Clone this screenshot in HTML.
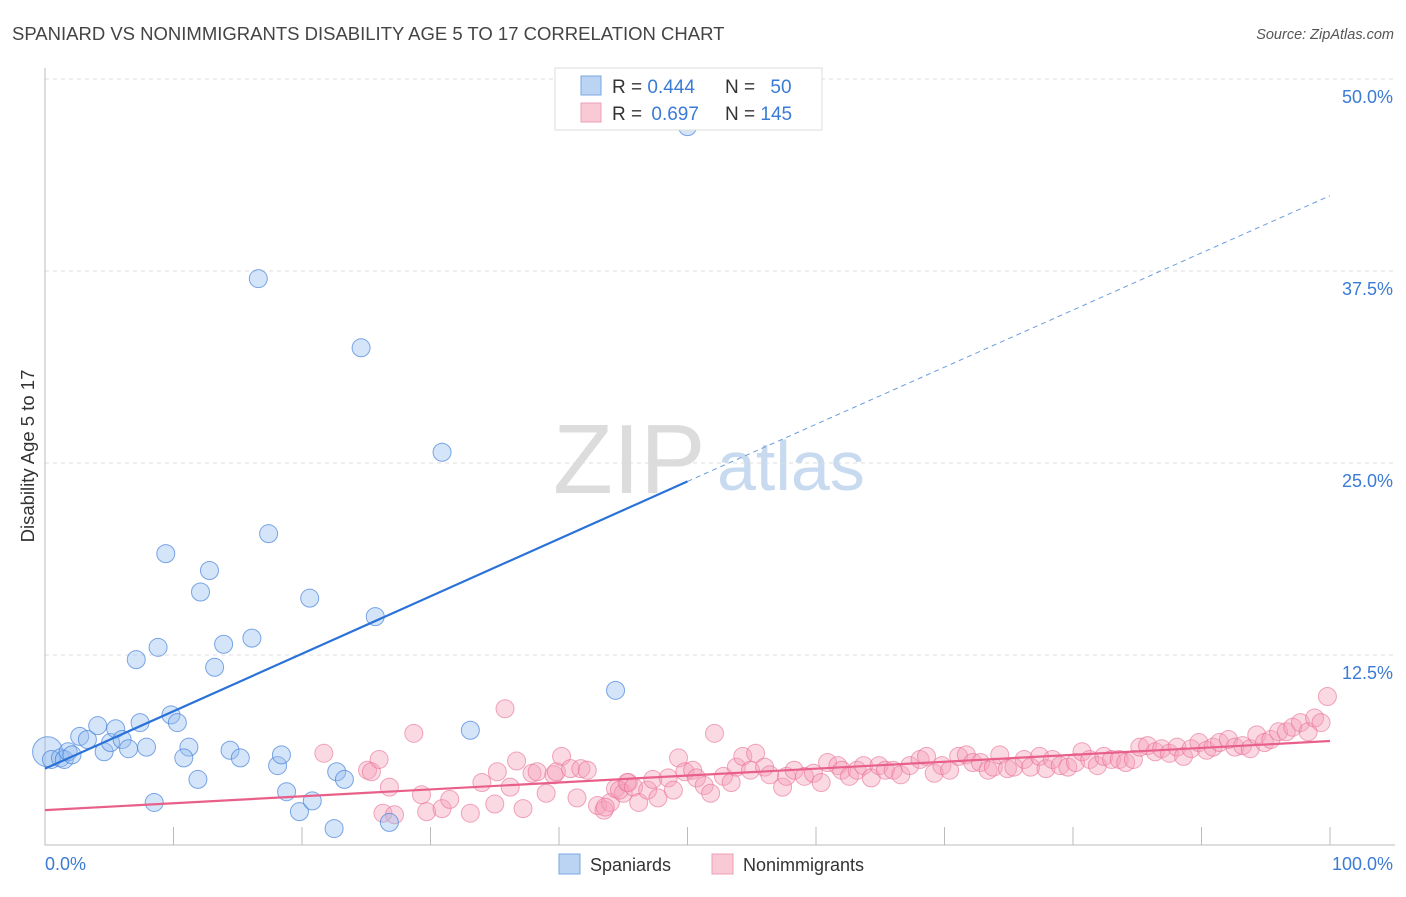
<!DOCTYPE html>
<html><head><meta charset="utf-8"><style>
body{margin:0;background:#fff;font-family:"Liberation Sans",sans-serif;}
svg text{font-family:"Liberation Sans",sans-serif;}
</style></head><body>
<svg id="chart" width="1406" height="892">
<text x="12" y="40" font-size="18.5" fill="#444">SPANIARD VS NONIMMIGRANTS DISABILITY AGE 5 TO 17 CORRELATION CHART</text>
<text x="1394" y="39" font-size="14.5" fill="#555" font-style="italic" text-anchor="end">Source: ZipAtlas.com</text>
<text transform="translate(34,456) rotate(-90)" font-size="18.5" fill="#333" text-anchor="middle">Disability Age 5 to 17</text>
<g>
<text x="553" y="493" font-size="98" font-family="Liberation Serif,serif" fill="#dcdcdc">ZIP</text>
<text x="717" y="490" font-size="70" fill="#c8daef">atlas</text>
</g>
<g id="grid"></g>
<g id="axes"></g>
<g id="marks"></g>
<g>
<rect x="555" y="68" width="267" height="62" fill="#fff" stroke="#ddd"/>
<rect x="581" y="76" width="20" height="19" fill="#bcd4f4" stroke="#7aa6e0"/>
<rect x="581" y="103" width="20" height="19" fill="#f9c9d6" stroke="#eda0b6"/>
<text x="612" y="93" font-size="19" fill="#333">R = <tspan fill="#3a7bd5">0.444</tspan></text>
<text x="725" y="93" font-size="19" fill="#333">N = <tspan fill="#3a7bd5" dx="10">50</tspan></text>
<text x="612" y="120" font-size="19" fill="#333">R = <tspan fill="#3a7bd5" dx="4">0.697</tspan></text>
<text x="725" y="120" font-size="19" fill="#333">N = <tspan fill="#3a7bd5">145</tspan></text>
</g>
<g>
<rect x="559" y="854" width="21" height="20" fill="#bcd4f4" stroke="#7aa6e0"/>
<text x="590" y="871" font-size="18" fill="#333">Spaniards</text>
<rect x="712" y="854" width="21" height="20" fill="#f9c9d6" stroke="#eda0b6"/>
<text x="743" y="871" font-size="18" fill="#333">Nonimmigrants</text>
</g>
</svg>
<script>
const yTicks=[12.5,25,37.5,50];
const yTickLabels=["12.5%","25.0%","37.5%","50.0%"];
const xTickVals=[0,10,20,30,40,50,60,70,80,90,100];
const blueX=[0.2,0.5,1.2,1.5,1.8,2.1,2.7,3.3,4.1,4.6,5.1,5.5,6.0,6.5,7.4,7.9,7.1,8.5,8.8,9.4,9.8,10.3,11.2,10.8,11.9,12.1,12.8,13.2,13.9,14.4,15.2,16.1,16.6,17.4,18.1,18.4,18.8,19.8,20.6,20.8,22.5,22.7,23.3,24.6,25.7,26.8,30.9,33.1,44.4,50.0];
const blueY=[6.2,5.7,5.8,5.7,6.2,6.0,7.2,7.0,7.9,6.2,6.8,7.7,7.0,6.4,8.1,6.5,12.2,2.9,13.0,19.1,8.6,8.1,6.5,5.8,4.4,16.6,18.0,11.7,13.2,6.3,5.8,13.6,37.0,20.4,5.3,6.0,3.6,2.3,16.2,3.0,1.2,4.9,4.4,32.5,15.0,1.6,25.7,7.6,10.2,46.9];
const pinkX=[21.7,25.1,25.4,26.0,26.8,26.3,27.2,28.7,29.3,29.7,30.9,31.5,33.1,34.0,35.0,35.2,35.8,36.2,36.7,37.2,37.9,38.3,39.0,39.6,39.8,40.2,40.9,41.4,41.7,42.2,43.0,43.5,44.0,44.4,45.0,45.4,43.6,44.7,45.3,45.8,46.2,46.9,47.3,47.7,48.5,48.9,49.3,49.8,50.4,50.7,51.3,51.8,52.1,52.8,53.4,53.8,54.3,54.9,55.3,56.0,56.4,57.4,57.7,58.3,59.1,59.8,60.4,60.9,61.7,62.0,62.6,63.2,63.7,64.3,64.9,65.4,66.0,66.6,67.3,68.1,68.6,69.2,69.8,70.4,71.1,71.7,72.2,72.8,73.4,73.8,74.3,74.9,75.4,76.2,76.7,77.4,77.9,78.4,79.0,79.6,80.2,80.7,81.3,81.9,82.4,83.0,83.6,84.1,84.7,85.2,85.8,86.4,86.9,87.5,88.1,88.6,89.2,89.8,90.4,90.9,91.4,92.1,92.6,93.2,93.8,94.3,94.9,95.4,96.0,96.6,97.1,97.7,98.3,98.8,99.3,99.8];
const pinkY=[6.1,5.0,4.9,5.7,3.9,2.2,2.1,7.4,3.4,2.3,2.5,3.1,2.2,4.2,2.8,4.9,9.0,3.9,5.6,2.5,4.8,4.9,3.5,4.7,4.9,5.9,5.1,3.2,5.1,5.0,2.7,2.4,2.9,3.8,3.5,4.2,2.6,3.7,4.2,3.9,2.9,3.7,4.4,3.2,4.5,3.7,5.8,4.9,5.0,4.5,4.0,3.5,7.4,4.6,4.2,5.2,5.9,5.0,6.1,5.2,4.7,3.9,4.6,5.0,4.6,4.8,4.2,5.5,5.3,5.0,4.6,5.0,5.3,4.5,5.3,5.0,5.0,4.7,5.3,5.7,5.9,4.8,5.3,5.0,5.9,6.0,5.5,5.5,5.0,5.2,6.0,5.1,5.2,5.7,5.2,5.9,5.1,5.7,5.3,5.2,5.5,6.2,5.7,5.3,5.9,5.7,5.7,5.5,5.7,6.5,6.6,6.2,6.4,6.1,6.5,5.9,6.4,6.8,6.3,6.5,6.8,7.0,6.5,6.6,6.4,7.3,6.8,7.0,7.5,7.5,7.8,8.1,7.5,8.4,8.1,9.8];
const blueTrend=[5.1,23.8,42.4];
const pinkTrend=[2.4,6.9];
const NS="http://www.w3.org/2000/svg";
const X=v=>45+v*12.85, Y=v=>847-v*15.36;
function mk(p,t,a){const e=document.createElementNS(NS,t);for(const k in a)e.setAttribute(k,a[k]);p.appendChild(e);return e;}
const grid=document.getElementById('grid'),axes=document.getElementById('axes'),marks=document.getElementById('marks');
yTicks.forEach((v,i)=>{
 const l=mk(grid,'line',{x1:45,x2:1395,y1:Y(v),y2:Y(v),stroke:'#ddd','stroke-dasharray':'4,4'});
 
 
 const t=mk(grid,'text',{x:1393,y:Y(v)+24,'font-size':18,fill:'#3a7bd5','text-anchor':'end'});
 t.textContent=yTickLabels[i];
 
 
});
const ax=mk(axes,'path',{d:'M45,68V845H1395',stroke:'#bbb',fill:'none'});


xTickVals.forEach(v=>{if(v===0)return;
 const t=mk(axes,'line',{x1:X(v),x2:X(v),y1:827,y2:845,stroke:'#bbb'});
 
 
});
const xl=mk(axes,'text',{x:45,y:870,'font-size':18,fill:'#3a7bd5'});xl.textContent='0.0%';


const xr=mk(axes,'text',{x:1393,y:870,'font-size':18,fill:'#3a7bd5','text-anchor':'end'});xr.textContent='100.0%';


pinkX.forEach((x,i)=>{
 const c=mk(marks,'circle',{cx:X(x),cy:Y(pinkY[i]),r:9,fill:'rgba(245,160,185,0.4)',stroke:'rgba(232,110,150,0.6)'});
 
 
});
blueX.forEach((x,i)=>{
 const c=mk(marks,'circle',{cx:X(x),cy:Y(blueY[i]),r:i===0?15:9,fill:'rgba(150,190,240,0.4)',stroke:'rgba(70,130,220,0.7)'});
 
 
});
const bt=mk(marks,'line',{x1:X(0),y1:Y(blueTrend[0]),x2:X(50),y2:Y(blueTrend[1]),stroke:'#2a72d8','stroke-width':2.2});


const bd=mk(marks,'line',{x1:X(50),y1:Y(blueTrend[1]),x2:X(100),y2:Y(blueTrend[2]),stroke:'#6a9de0','stroke-width':1,'stroke-dasharray':'5,4'});


const pt=mk(marks,'line',{x1:X(0),y1:Y(pinkTrend[0]),x2:X(100),y2:Y(pinkTrend[1]),stroke:'#e8608a','stroke-width':2.2});


</script>
</body></html>
